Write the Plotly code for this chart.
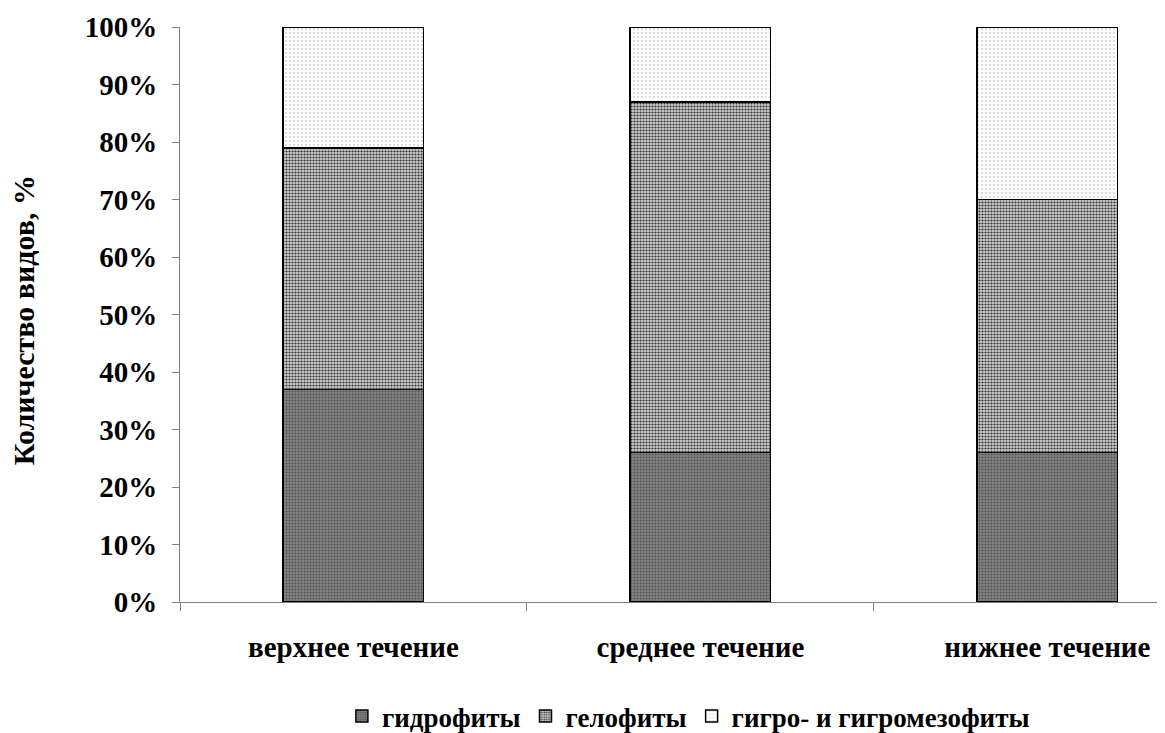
import plotly.graph_objects as go

categories = ["верхнее течение", "среднее течение", "нижнее течение"]
series_names = ["гидрофиты", "гелофиты", "гигро- и гигромезофиты"]
hydrophytes = [37, 26, 26]
helophytes = [42, 61, 44]
hygro = [21, 13, 30]
y_ticks = list(range(0, 101, 10))
y_tick_labels = [f"{v}%" for v in y_ticks]

FONT = "Liberation Serif"

styles = [
    dict(bgcolor="#848484", fgcolor="#505050", shape=".", size=3, solidity=0.35),
    dict(bgcolor="#cfcfcf", fgcolor="#333333", shape=".", size=3, solidity=0.42),
    dict(bgcolor="#ffffff", fgcolor="#b0b0b0", shape=".", size=4, solidity=0.12),
]

fig = go.Figure()
for name, vals, st in zip(series_names, [hydrophytes, helophytes, hygro], styles):
    fig.add_trace(go.Bar(
        x=categories, y=vals, name=name, width=0.405,
        marker=dict(color=st["bgcolor"], line=dict(color="black", width=1.5),
                    pattern=dict(shape=st["shape"], fgcolor=st["fgcolor"], bgcolor=st["bgcolor"],
                                 size=st["size"], solidity=st["solidity"], fillmode="replace")),
    ))

fig.update_layout(
    barmode="stack",
    width=1165, height=733,
    margin=dict(l=172, r=0, t=19, b=138),
    plot_bgcolor="white", paper_bgcolor="white",
    font=dict(family=FONT, color="black"),
    showlegend=True,
    legend=dict(orientation="h", x=0.512, xanchor="center", y=-0.2, yanchor="middle",
                font=dict(family=FONT, size=27, color="black", weight="bold"),
                traceorder="normal", itemwidth=30),
    xaxis=dict(range=[-0.5, 2.362], showline=True, linecolor="#808080", linewidth=1,
               ticks="outside", tickson="boundaries", ticklen=8, tickcolor="#808080",
               tickfont=dict(family=FONT, size=29, weight="bold"), showgrid=False,
               ticklabelstandoff=19),
    yaxis=dict(range=[0, 100], tickvals=y_ticks, ticktext=y_tick_labels,
               showline=True, linecolor="#808080", linewidth=1,
               ticks="outside", ticklen=7, tickcolor="#808080",
               tickfont=dict(family=FONT, size=29, weight="bold"), showgrid=False,
               zeroline=False, ticklabelstandoff=9),
    annotations=[dict(text="Количество видов, %", xref="paper", yref="paper",
                      x=-0.158, y=0.49, xanchor="center", yanchor="middle",
                      textangle=-90, showarrow=False,
                      font=dict(family=FONT, size=30, weight="bold", color="black"))],
)

fig.write_html("out.html")
